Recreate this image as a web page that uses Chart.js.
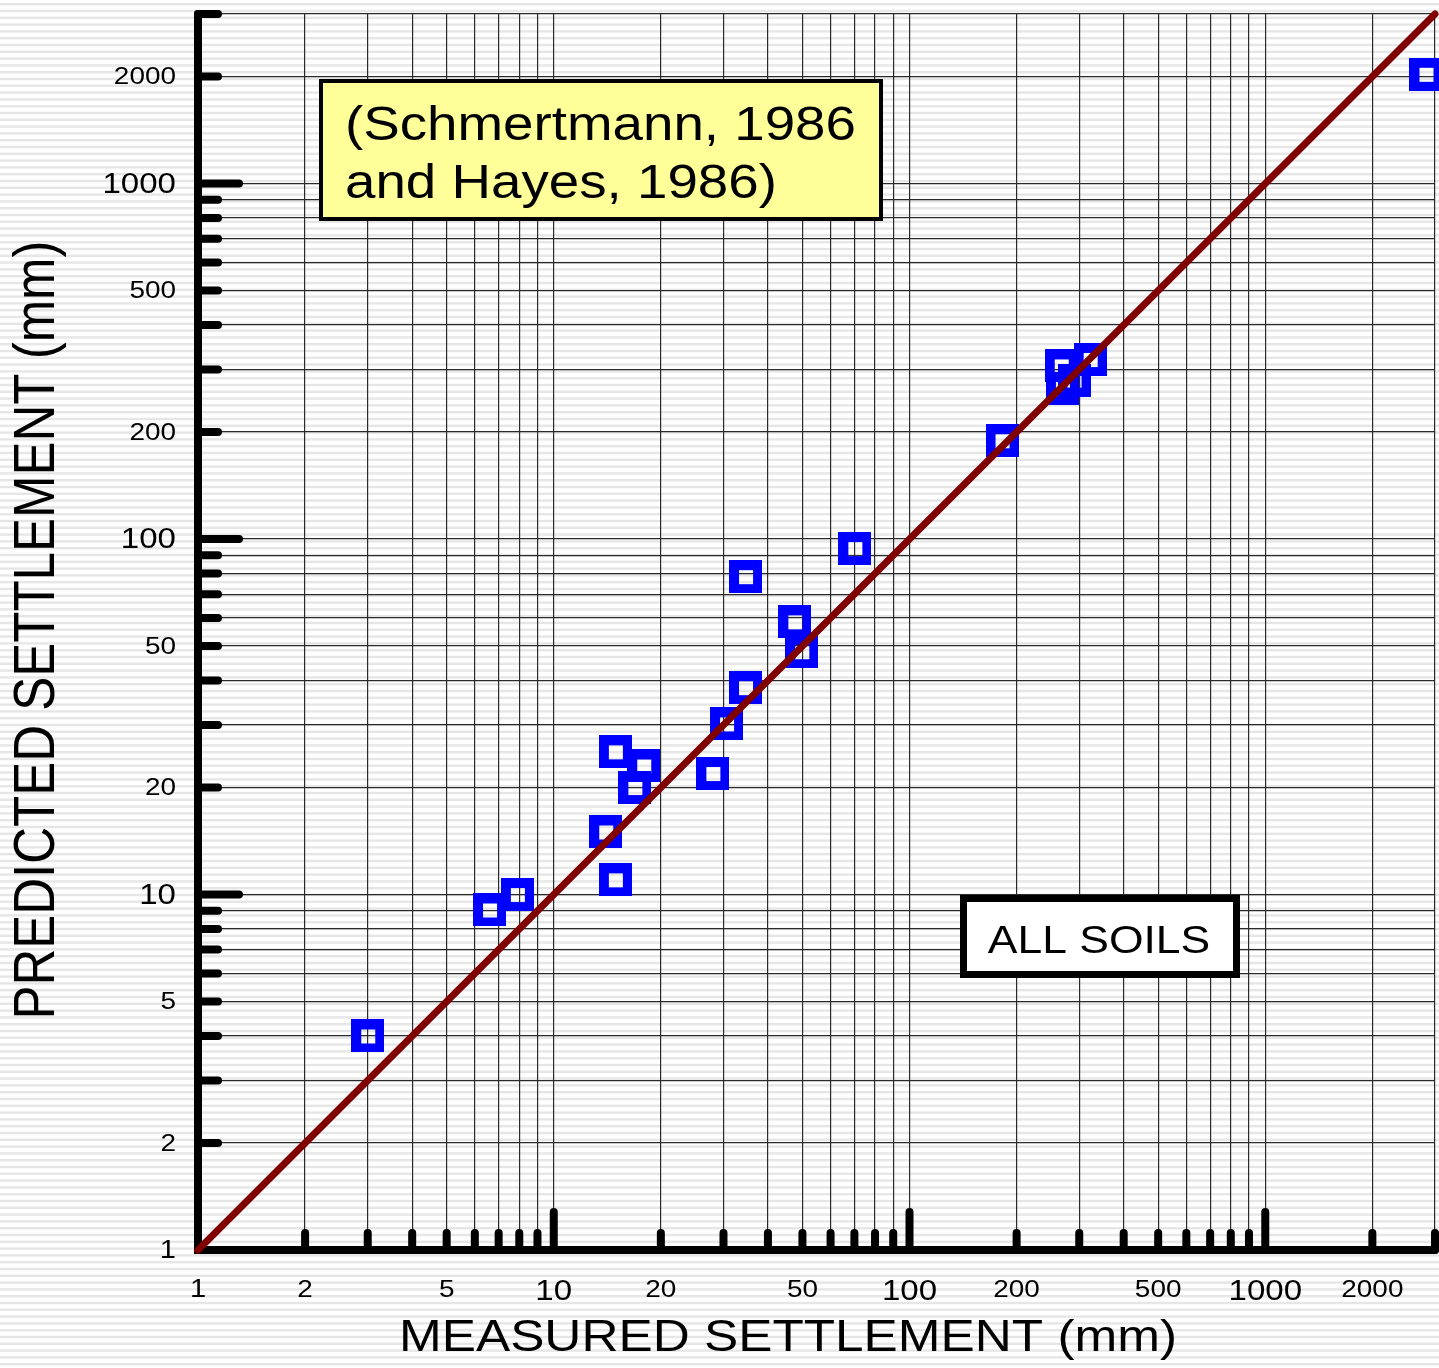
<!DOCTYPE html>
<html>
<head>
<meta charset="utf-8">
<title>Predicted vs measured settlement</title>
<script src="https://cdn.jsdelivr.net/npm/chart.js@4.4.1/dist/chart.umd.min.js"></script>
<style>
  html, body { margin: 0; padding: 0; background: #ffffff; }
  canvas { display: block; }
</style>
</head>
<body>
<canvas id="chart" width="1439" height="1368"></canvas>
<script>
// Measured vs predicted settlement (mm), one entry per case history
const measured  = [3.0, 6.6, 7.9, 14.0, 14.9, 14.9, 16.9, 17.9, 28.0, 30.6, 34.6, 34.6, 47.6, 49.8, 70.2, 182, 267, 269, 290, 322, 2830];
const predicted = [4.0, 9.05, 10.0, 15.0, 11.0, 25.2, 20.0, 23.0, 21.9, 30.2, 38.2, 78.4, 58.5, 48.2, 94, 189, 307, 265, 280, 320, 2030];

// 1:1 reference line end points
const equalityLine = [1, 3000];

// Axis range and log grid positions
const axisMin = 1;
const axisMax = 3000;
const gridValues = [1, 2, 3, 4, 5, 6, 7, 8, 9,
                    10, 20, 30, 40, 50, 60, 70, 80, 90,
                    100, 200, 300, 400, 500, 600, 700, 800, 900,
                    1000, 2000, 3000];
const majorValues = [10, 100, 1000];
const tickLabels = ['1', '2', '5', '10', '20', '50', '100', '200', '500', '1000', '2000'];

const xTitle = 'MEASURED SETTLEMENT (mm)';
const yTitle = 'PREDICTED SETTLEMENT (mm)';
const sourceNote = ['(Schmertmann, 1986', 'and Hayes, 1986)'];
const soilNote = 'ALL SOILS';

const FONT = '"Liberation Sans", Arial, sans-serif';
const STRETCH = 1.14;

function wideText(ctx, text, x, y, align) {
  ctx.save();
  ctx.translate(x, y);
  ctx.scale(STRETCH, 1);
  ctx.textAlign = align;
  ctx.fillText(text, 0, 0);
  ctx.restore();
}

// Hollow square marker sprite
function hollowSquare(size, edge, color) {
  const c = document.createElement('canvas');
  c.width = size; c.height = size;
  const g = c.getContext('2d');
  g.fillStyle = color;
  g.fillRect(0, 0, size, size);
  g.clearRect(edge, edge, size - 2 * edge, size - 2 * edge);
  return c;
}
const squareMarker = hollowSquare(33, 9.5, '#0000ff');

// Striped page background
const stripes = {
  id: 'stripes',
  beforeDraw(chart) {
    const ctx = chart.ctx;
    ctx.save();
    ctx.fillStyle = '#ffffff';
    ctx.fillRect(0, 0, chart.width, chart.height);
    ctx.fillStyle = '#e6e6e6';
    for (let y = 3; y < chart.height; y += 6.8) {
      ctx.fillRect(0, y, chart.width, 2.4);
    }
    ctx.restore();
  }
};

// Heavy axes with inward tick marks, tick labels and axis titles
const axesFrame = {
  id: 'axesFrame',
  beforeDatasetsDraw(chart) {
    const ctx = chart.ctx;
    const xs = chart.scales.x, ys = chart.scales.y;
    const x0 = xs.getPixelForValue(axisMin), x1 = xs.getPixelForValue(axisMax);
    const y0 = ys.getPixelForValue(axisMin), y1 = ys.getPixelForValue(axisMax);
    ctx.save();
    ctx.strokeStyle = '#000000';
    ctx.lineCap = 'round';
    ctx.lineWidth = 8;
    ctx.beginPath();
    ctx.moveTo(x0, y1); ctx.lineTo(x0, y0); ctx.lineTo(x1, y0);
    ctx.stroke();
    ctx.beginPath();
    gridValues.forEach(v => {
      if (v === axisMin) return;
      const major = majorValues.includes(v);
      const py = ys.getPixelForValue(v);
      ctx.moveTo(x0, py); ctx.lineTo(x0 + (major ? 41 : 20), py);
      const px = xs.getPixelForValue(v);
      ctx.moveTo(px, y0); ctx.lineTo(px, y0 - (major ? 38 : 17));
    });
    ctx.stroke();

    // tick labels
    ctx.fillStyle = '#000000';
    ctx.textBaseline = 'middle';
    tickLabels.forEach(t => {
      const v = Number(t);
      const major = majorValues.includes(v);
      const size = major ? 29 : (v === 1 ? 25.5 : 24.5);
      ctx.font = size + 'px ' + FONT;
      wideText(ctx, t, x0 - 22, ys.getPixelForValue(v) + 1, 'right');
      wideText(ctx, t, xs.getPixelForValue(v), y0 + (major ? 42 : 40), 'center');
    });

    // axis titles
    ctx.font = '45px ' + FONT;
    wideText(ctx, xTitle, 788, 1339, 'center');
    ctx.save();
    ctx.translate(38, 630);
    ctx.scale(STRETCH, 1);
    ctx.rotate(-Math.PI / 2);
    ctx.font = '51px ' + FONT;
    ctx.textAlign = 'center';
    ctx.fillText(yTitle, 0, 0);
    ctx.restore();
    ctx.restore();
  },
  afterDatasetsDraw(chart) {
    const ctx = chart.ctx;
    ctx.save();
    // source note
    ctx.fillStyle = '#ffff99';
    ctx.fillRect(321, 81, 560, 138);
    ctx.strokeStyle = '#000000';
    ctx.lineWidth = 4;
    ctx.strokeRect(321, 81, 560, 138);
    ctx.fillStyle = '#000000';
    ctx.textBaseline = 'alphabetic';
    ctx.font = '48px ' + FONT;
    wideText(ctx, sourceNote[0], 345, 140, 'left');
    wideText(ctx, sourceNote[1], 345, 198, 'left');
    // soil group label
    ctx.fillStyle = '#ffffff';
    ctx.fillRect(963.5, 898.5, 273, 76);
    ctx.lineWidth = 7;
    ctx.strokeRect(963.5, 898.5, 273, 76);
    ctx.fillStyle = '#000000';
    ctx.font = '39px ' + FONT;
    wideText(ctx, soilNote, 1099, 953, 'center');
    ctx.restore();
  }
};

const points = measured.map((m, i) => ({ x: m, y: predicted[i] }));

const logAxis = {
  type: 'logarithmic',
  min: axisMin,
  max: axisMax,
  afterBuildTicks(scale) {
    scale.ticks = gridValues.map(v => ({ value: v }));
  },
  ticks: { display: false },
  border: { display: false },
  grid: { color: '#2a2a2a', lineWidth: 1.2, drawTicks: false }
};

new Chart(document.getElementById('chart'), {
  type: 'scatter',
  data: {
    datasets: [
      {
        label: '1:1',
        type: 'line',
        data: equalityLine.map(v => ({ x: v, y: v })),
        borderColor: '#800000',
        borderWidth: 7,
        borderCapStyle: 'round',
        pointRadius: 0,
        fill: false,
        clip: false,
        order: 0
      },
      {
        label: 'Settlement',
        data: points,
        pointStyle: squareMarker,
        pointRadius: 17,
        pointHoverRadius: 17,
        clip: false,
        order: 1
      }
    ]
  },
  options: {
    responsive: false,
    devicePixelRatio: 1,
    animation: false,
    layout: { autoPadding: false, padding: { left: 198, right: 4, top: 14, bottom: 118 } },
    plugins: { legend: { display: false }, tooltip: { enabled: false } },
    scales: { x: logAxis, y: { ...logAxis } }
  },
  plugins: [stripes, axesFrame]
});
</script>
</body>
</html>
